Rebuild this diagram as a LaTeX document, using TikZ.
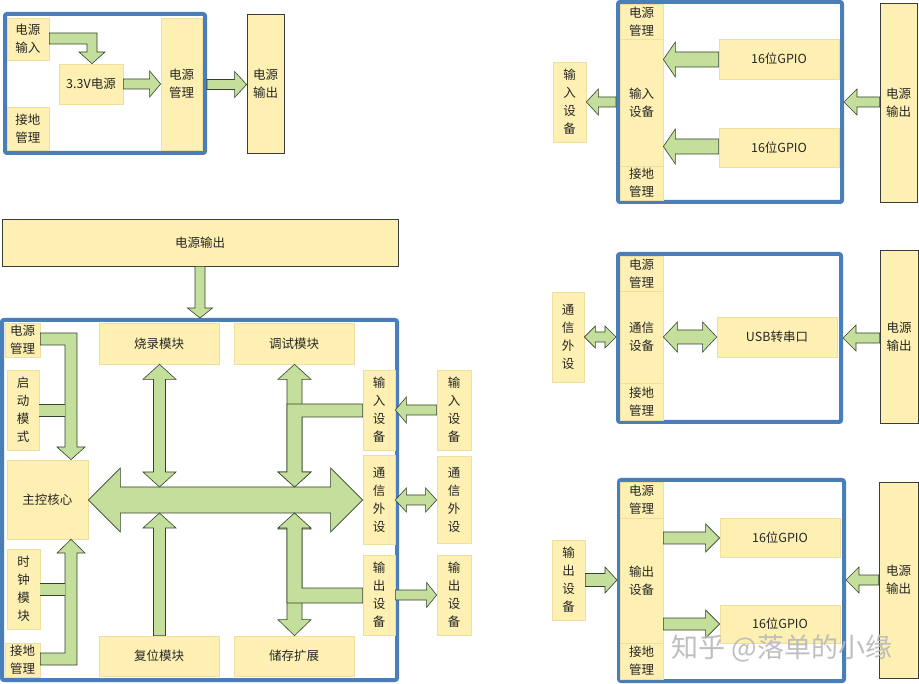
\documentclass[tikz,border=0pt]{standalone}
\usepackage{fontspec}
\newfontfamily\cjk{Noto Sans CJK SC}
\usetikzlibrary{calc}

\definecolor{boxfill}{HTML}{FDF0B2}
\definecolor{boxline}{HTML}{EEDF9E}
\definecolor{arrfill}{HTML}{C4DF9C}
\definecolor{arrline}{HTML}{34432A}
\definecolor{frameblue}{HTML}{4A7EBB}
\definecolor{darkline}{HTML}{3C3C3C}

% box given by its corners (picture units, y downward)
\newcommand\bx[7][]{%
  \pgfmathsetmacro\bxw{#5-#3}\pgfmathsetmacro\bxh{#6-#4}%
  \node[box,#1,minimum width=\bxw pt,minimum height=\bxh pt] (#2) at ({(#3+#5)/2},{(#4+#6)/2}) {#7};}

% horizontal block arrow: tail, tip, y, shaft half, head half, signed head length
\newcommand\hblk[6]{%
  \draw[blk] let \p1=(#1), \p2=(#2) in
    (\x1,{-(#3-#4)*1pt}) -- ({\x2-(#6)*1pt},{-(#3-#4)*1pt}) -- ({\x2-(#6)*1pt},{-(#3-#5)*1pt})
    -- (\x2,{-(#3)*1pt}) -- ({\x2-(#6)*1pt},{-(#3+#5)*1pt}) -- ({\x2-(#6)*1pt},{-(#3+#4)*1pt})
    -- (\x1,{-(#3+#4)*1pt}) -- cycle;}

% horizontal double block arrow: left tip, right tip, y, shaft half, head half, head length
\newcommand\hdbl[6]{%
  \draw[blk] let \p1=(#1), \p2=(#2) in
    (\x1,{-(#3)*1pt}) -- ({\x1+(#6)*1pt},{-(#3-#5)*1pt}) -- ({\x1+(#6)*1pt},{-(#3-#4)*1pt})
    -- ({\x2-(#6)*1pt},{-(#3-#4)*1pt}) -- ({\x2-(#6)*1pt},{-(#3-#5)*1pt}) -- (\x2,{-(#3)*1pt})
    -- ({\x2-(#6)*1pt},{-(#3+#5)*1pt}) -- ({\x2-(#6)*1pt},{-(#3+#4)*1pt})
    -- ({\x1+(#6)*1pt},{-(#3+#4)*1pt}) -- ({\x1+(#6)*1pt},{-(#3+#5)*1pt}) -- cycle;}

% vertical block arrow: tail, tip, x, shaft half, head half, signed head length (+ = downward)
\newcommand\vblk[6]{%
  \draw[blk] let \p1=(#1), \p2=(#2) in
    ({(#3-#4)*1pt},\y1) -- ({(#3-#4)*1pt},{\y2+(#6)*1pt}) -- ({(#3-#5)*1pt},{\y2+(#6)*1pt})
    -- ({(#3)*1pt},\y2) -- ({(#3+#5)*1pt},{\y2+(#6)*1pt}) -- ({(#3+#4)*1pt},{\y2+(#6)*1pt})
    -- ({(#3+#4)*1pt},\y1) -- cycle;}

% vertical double block arrow: top tip, bottom tip, x, shaft half, head half, head length
\newcommand\vdbl[6]{%
  \draw[blk] let \p1=(#1), \p2=(#2) in
    ({(#3)*1pt},\y1) -- ({(#3+#5)*1pt},{\y1-(#6)*1pt}) -- ({(#3+#4)*1pt},{\y1-(#6)*1pt})
    -- ({(#3+#4)*1pt},{\y2+(#6)*1pt}) -- ({(#3+#5)*1pt},{\y2+(#6)*1pt}) -- ({(#3)*1pt},\y2)
    -- ({(#3-#5)*1pt},{\y2+(#6)*1pt}) -- ({(#3-#4)*1pt},{\y2+(#6)*1pt})
    -- ({(#3-#4)*1pt},{\y1-(#6)*1pt}) -- ({(#3-#5)*1pt},{\y1-(#6)*1pt}) -- cycle;}

\begin{document}
\begin{tikzpicture}[x=1pt,y=-1pt,
  box/.style={rectangle,fill=boxfill,draw=boxline,line width=0.7pt,inner sep=0pt,
    align=center,font=\cjk\fontsize{12.5}{18}\selectfont,text=black!85},
  outbox/.style={draw=darkline,line width=0.8pt},
  frame/.style={fill=white,draw=frameblue,line width=4pt,rounded corners=2pt},
  blk/.style={fill=arrfill,draw=arrline,line width=0.6pt,line join=miter}]
\useasboundingbox (0,0) rectangle (919,684);
\fill[white] (0,0) rectangle (919,684);

% ---------------- power board ----------------
\bx[frame]{F1}{5}{14}{205}{153}{}
\bx{pin}{7}{18}{49}{60}{电源\\输入}
\bx{gnd1}{7}{107}{49}{150}{接地\\管理}
\bx{v33}{59}{64}{123}{104}{3.3V电源}
\bx{pm1}{161}{18}{202}{150}{电源\\管理}
\bx[outbox]{pout1}{247}{14}{284}{153}{电源\\输出}
\draw[blk] (pin.east|-0,33) -- (97,33) -- (97,52) -- (105,52) -- (v33.north-|92,0)
  -- (79,52) -- (87,52) -- (87,44) -- (pin.east|-0,44) -- cycle;
\hblk{v33.east}{pm1.west}{84}{5}{13}{11}
\hblk{F1.east}{pout1.west}{84.5}{5}{13}{12}

% ---------------- main board ----------------
\bx[outbox]{pout0}{2}{219}{398}{266}{电源输出}
\bx[frame]{F5}{2}{320}{397}{680}{}
\vblk{pout0.south}{F5.north}{200}{5}{12.5}{10}

\bx{mpm}{5}{323}{40}{357}{电源\\管理}
\bx{boot}{7}{370}{39}{450}{启\\动\\模\\式}
\bx{core}{7}{460}{88}{539}{主控核心}
\bx{clk}{7}{549}{40}{629}{时\\钟\\模\\块}
\bx{mgnd}{5}{643}{40}{677}{接地\\管理}
\bx{burn}{99}{323}{219}{364}{烧录模块}
\bx{dbg}{234}{323}{354}{364}{调试模块}
\bx{rst}{99}{636}{219}{676}{复位模块}
\bx{stor}{234}{636}{354}{676}{储存扩展}
\bx{iin}{363}{370}{395}{450}{输\\入\\设\\备}
\bx{icom}{363}{455}{395}{544}{通\\信\\外\\设}
\bx{iout}{363}{555}{395}{635}{输\\出\\设\\备}
\bx{xin}{437}{370}{471}{450}{输\\入\\设\\备}
\bx{xcom}{437}{456}{471}{543}{通\\信\\外\\设}
\bx{xout}{437}{555}{471}{635}{输\\出\\设\\备}

% internal bus
\hdbl{core.east}{icom.west}{500}{13}{32}{32}
\coordinate (busT1) at (159.5,487);
\coordinate (busB1) at (159.5,513);
\coordinate (busT2) at (294.5,487);
\coordinate (busB2) at (294.5,513);
\vdbl{burn.south}{busT1}{159.5}{6}{16.5}{15}
\vblk{rst.north}{busB1}{159.5}{6}{16.5}{-15}
\vdbl{dbg.south}{busT2}{294.5}{7.5}{16.5}{15}
\draw[blk] (iin.west|-0,404) -- (287,404) -- (287,472) -- (278,472) -- (busT2)
  -- (311,472) -- (302,472) -- (302,417) -- (iin.west|-0,417) -- cycle;
\vdbl{busB2}{stor.north}{294.5}{7.5}{16.5}{16}
\draw[blk] (iout.west|-0,603) -- (287,603) -- (287,528) -- (278,528) -- (busB2)
  -- (311,528) -- (302,528) -- (302,588) -- (iout.west|-0,588) -- cycle;

% power and ground feeds to the core
\draw[blk] (mpm.east|-0,333) -- (77,333) -- (77,447) -- (85,447) -- (core.north-|71,0)
  -- (57,447) -- (65,447) -- (65,345) -- (mpm.east|-0,345) -- cycle;
\draw[blk] (mgnd.east|-0,665) -- (77,665) -- (77,553) -- (85,553) -- (core.south-|71,0)
  -- (57,553) -- (65,553) -- (65,653) -- (mgnd.east|-0,653) -- cycle;
\fill[arrfill] (boot.east|-0,404) rectangle (65.4,416);
\draw[arrline,line width=0.6pt] (boot.east|-0,404) -- (65,404) (boot.east|-0,416) -- (65,416);
\fill[arrfill] (clk.east|-0,583) rectangle (65.4,595);
\draw[arrline,line width=0.6pt] (clk.east|-0,583) -- (65,583) (clk.east|-0,595) -- (65,595);

% external devices
\hblk{xin.west}{iin.east}{410}{5}{13}{-11}
\hdbl{icom.east}{xcom.west}{500}{5}{12}{11}
\hblk{iout.east}{xout.west}{595}{5}{12.5}{10}

% ---------------- input board ----------------
\bx[frame]{F2}{618}{2}{842}{202}{}
\bx{pmA}{620}{4}{663}{39}{电源\\管理}
\bx{inA}{620}{39}{663}{166}{输入\\设备}
\bx{gndA}{620}{166}{663}{200}{接地\\管理}
\bx{gpioA1}{719}{39}{839}{79}{16位GPIO}
\bx{gpioA2}{719}{128}{839}{167}{16位GPIO}
\bx[outbox]{poutA}{880}{3}{917}{202}{电源\\输出}
\bx{xinA}{553}{62}{586}{142}{输\\入\\设\\备}
\hblk{gpioA1.west}{inA.east}{59.5}{7.5}{17.5}{-12}
\hblk{gpioA2.west}{inA.east}{146.5}{7.5}{17.5}{-12}
\hblk{F2.west}{xinA.east}{102}{5}{13}{-12}
\hblk{poutA.west}{F2.east}{102}{5}{13}{-13}

% ---------------- communication board ----------------
\bx[frame]{F3}{618}{254}{841}{422}{}
\bx{pmB}{620}{256}{663}{291}{电源\\管理}
\bx{comB}{620}{291}{663}{383}{通信\\设备}
\bx{gndB}{620}{383}{663}{420}{接地\\管理}
\bx{usb}{717}{317}{837}{357}{USB转串口}
\bx[outbox]{poutB}{880}{250}{918}{423}{电源\\输出}
\bx{xcomB}{552}{292}{584}{382}{通\\信\\外\\设}
\hdbl{xcomB.east}{F3.west}{337}{5}{11}{11}
\hdbl{comB.east}{usb.west}{337}{7}{15}{14}
\hblk{poutB.west}{F3.east}{338}{5}{13}{-13}

% ---------------- output board ----------------
\bx[frame]{F4}{619}{480}{844}{681}{}
\bx{pmC}{620}{482}{663}{518}{电源\\管理}
\bx{outC}{620}{518}{663}{643}{输出\\设备}
\bx{gndC}{620}{643}{663}{679}{接地\\管理}
\bx{gpioC1}{720}{518}{840}{557}{16位GPIO}
\bx{gpioC2}{720}{605}{840}{643}{16位GPIO}
\bx[outbox]{poutC}{879}{482}{918}{678}{电源\\输出}
\bx{xoutC}{552}{540}{585}{620}{输\\出\\设\\备}
\hblk{xoutC.east}{F4.west}{580}{6.5}{13}{12}
\hblk{outC.east}{gpioC1.west}{538}{6}{14}{14}
\hblk{outC.east}{gpioC2.west}{624}{6}{14}{14}
\hblk{poutC.west}{F4.east}{580}{5}{13}{-13}

% watermark
\node[text=black!28,opacity=0.9,inner sep=0pt,font=\cjk\fontsize{27}{30}\selectfont] (wm) at (782,648) {知乎 @落单的小缘};
\end{tikzpicture}
\end{document}
